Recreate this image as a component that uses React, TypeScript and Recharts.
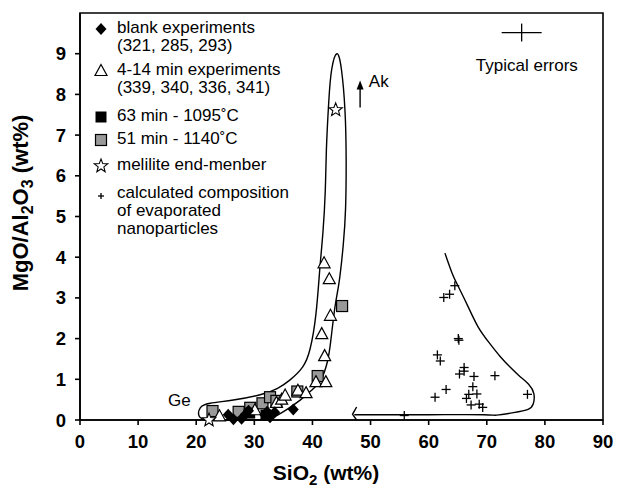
import React from 'react';
import { ScatterChart, Scatter, XAxis, YAxis, ReferenceArea, ReferenceDot, ErrorBar, Legend } from 'recharts';

const xTicks = [0, 10, 20, 30, 40, 50, 60, 70, 80, 90];
const yTicks = [0, 1, 2, 3, 4, 5, 6, 7, 8, 9];

// blank experiments (321, 285, 293)
const blankExperiments = [
  { x: 25.5, y: 0.13 }, { x: 26.4, y: 0.02 }, { x: 27.8, y: 0.03 }, { x: 28.5, y: 0.14 },
  { x: 29.0, y: 0.23 }, { x: 31.8, y: 0.13 }, { x: 32.2, y: 0.2 }, { x: 32.7, y: 0.07 },
  { x: 33.5, y: 0.19 }, { x: 36.7, y: 0.26 },
];

// 4-14 min experiments
const shortExperiments = [
  { x: 24.0, y: 0.09 }, { x: 30.1, y: 0.24 }, { x: 33.8, y: 0.42 }, { x: 34.7, y: 0.5 },
  { x: 35.3, y: 0.6 }, { x: 37.5, y: 0.72 }, { x: 38.9, y: 0.66 }, { x: 40.6, y: 0.93 },
  { x: 42.3, y: 0.93 }, { x: 42.1, y: 1.57 }, { x: 41.6, y: 2.11 }, { x: 43.1, y: 2.56 },
  { x: 42.9, y: 3.46 }, { x: 42.0, y: 3.85 },
];

const run63 = [{ x: 29.2, y: 0.17 }, { x: 32.0, y: 0.12 }];

const run51 = [
  { x: 22.8, y: 0.22 }, { x: 27.3, y: 0.2 }, { x: 29.3, y: 0.3 }, { x: 31.4, y: 0.41 },
  { x: 32.7, y: 0.56 }, { x: 33.8, y: 0.47 }, { x: 37.4, y: 0.7 }, { x: 40.9, y: 1.08 },
  { x: 45.1, y: 2.8 },
];

const melilite = [{ x: 22.2, y: 0.0 }, { x: 44.0, y: 7.62 }];

const nanoparticles = [
  { x: 64.5, y: 3.3 }, { x: 63.6, y: 3.09 }, { x: 62.6, y: 3.01 }, { x: 65.1, y: 2.0 },
  { x: 65.2, y: 1.96 }, { x: 61.5, y: 1.6 }, { x: 62.0, y: 1.45 }, { x: 66.1, y: 1.29 },
  { x: 66.1, y: 1.2 }, { x: 65.3, y: 1.13 }, { x: 67.8, y: 1.07 }, { x: 71.4, y: 1.09 },
  { x: 67.6, y: 0.82 }, { x: 63.0, y: 0.75 }, { x: 61.1, y: 0.56 }, { x: 66.9, y: 0.63 },
  { x: 68.3, y: 0.64 }, { x: 66.5, y: 0.53 }, { x: 67.3, y: 0.37 }, { x: 68.7, y: 0.39 },
  { x: 69.3, y: 0.31 }, { x: 77.0, y: 0.63 }, { x: 55.8, y: 0.11 },
];

// hand-drawn fields
const leftField = [
  { x: 21.5, y: 0.0 }, { x: 20.5, y: 0.1 }, { x: 20.7, y: 0.3 }, { x: 22.4, y: 0.41 },
  { x: 26.4, y: 0.49 }, { x: 31.0, y: 0.62 }, { x: 34.0, y: 0.78 }, { x: 36.1, y: 0.98 },
  { x: 38.3, y: 1.3 }, { x: 39.6, y: 1.75 }, { x: 40.6, y: 2.6 }, { x: 41.3, y: 3.77 },
  { x: 41.8, y: 4.6 }, { x: 42.2, y: 5.6 }, { x: 42.4, y: 6.64 }, { x: 42.8, y: 7.8 },
  { x: 43.3, y: 8.6 }, { x: 44.2, y: 9.0 }, { x: 45.0, y: 8.6 }, { x: 45.6, y: 7.6 },
  { x: 45.8, y: 6.4 }, { x: 45.7, y: 5.2 }, { x: 45.3, y: 4.3 }, { x: 44.6, y: 3.4 },
  { x: 43.9, y: 2.8 }, { x: 43.2, y: 2.0 }, { x: 42.6, y: 1.45 }, { x: 41.5, y: 1.0 },
  { x: 40.0, y: 0.75 }, { x: 38.0, y: 0.5 }, { x: 35.5, y: 0.25 }, { x: 33.0, y: 0.05 },
  { x: 30.0, y: 0.0 }, { x: 21.5, y: 0.0 },
];

const rightField = [
  { x: 62.8, y: 4.1 }, { x: 64.0, y: 3.62 }, { x: 65.1, y: 3.28 }, { x: 66.8, y: 2.78 },
  { x: 68.5, y: 2.29 }, { x: 70.4, y: 1.9 }, { x: 72.3, y: 1.56 }, { x: 74.0, y: 1.3 },
  { x: 75.7, y: 1.07 }, { x: 77.2, y: 0.88 }, { x: 78.1, y: 0.65 }, { x: 78.0, y: 0.4 },
  { x: 77.1, y: 0.26 }, { x: 74.6, y: 0.18 }, { x: 71.7, y: 0.12 }, { x: 69.5, y: 0.13 },
  { x: 60.0, y: 0.13 }, { x: 47.2, y: 0.13 },
];

const fieldArrow = [{ x: 47.6, y: 0.32 }, { x: 46.9, y: 0.14 }, { x: 47.6, y: 0.0 }];

const typicalError = [{ x: 76.0, y: 9.52, ex: 3.44, ey: 0.22 }];

const legendItems = [
  { marker: 'diamond', lines: ['blank experiments', '(321, 285, 293)'] },
  { marker: 'triangle', lines: ['4-14 min experiments', '(339, 340, 336, 341)'] },
  { marker: 'black', lines: ['63 min - 1095˚C'] },
  { marker: 'gray', lines: ['51 min - 1140˚C'] },
  { marker: 'star', lines: ['melilite end-menber'] },
  { marker: 'plus', lines: ['calculated composition', 'of evaporated', 'nanoparticles'] },
];

const FONT = '"Liberation Sans", Arial, Helvetica, sans-serif';

function starPoints(cx: number, cy: number, ro: number, ri: number) {
  const pts: string[] = [];
  for (let i = 0; i < 10; i++) {
    const r = i % 2 === 0 ? ro : ri;
    const a = -Math.PI / 2 + (i * Math.PI) / 5;
    pts.push(`${cx + r * Math.cos(a)},${cy + r * Math.sin(a)}`);
  }
  return pts.join(' ');
}

function Marker({ kind, cx, cy, small }: { kind: string; cx: number; cy: number; small?: boolean }) {
  switch (kind) {
    case 'diamond':
      return <polygon points={`${cx},${cy - 6} ${cx + 5.5},${cy} ${cx},${cy + 6} ${cx - 5.5},${cy}`} fill="#000" />;
    case 'triangle':
      return (
        <polygon
          points={`${cx},${cy - 6.5} ${cx + 6},${cy + 4.5} ${cx - 6},${cy + 4.5}`}
          fill="#fff" stroke="#000" strokeWidth={1.2}
        />
      );
    case 'black':
      return <rect x={cx - 5.5} y={cy - 5.5} width={11} height={11} fill="#000" />;
    case 'gray':
      return <rect x={cx - 5.5} y={cy - 5.5} width={11} height={11} fill="#999" stroke="#000" strokeWidth={1.2} />;
    case 'star':
      return <polygon points={starPoints(cx, cy, 7, 3)} fill="#fff" stroke="#000" strokeWidth={1.1} />;
    case 'plus': {
      const h = small ? 3 : 4.5;
      return (
        <g stroke="#000" strokeWidth={1.3}>
          <line x1={cx - h} y1={cy} x2={cx + h} y2={cy} />
          <line x1={cx} y1={cy - h} x2={cx} y2={cy + h} />
        </g>
      );
    }
    default:
      return <g />;
  }
}

const shapeOf = (kind: string) => (p: any) => <Marker kind={kind} cx={p.cx} cy={p.cy} />;
const noShape = () => <g />;

const legendGaps = [0, 6, 10, 5, 8, 10];

function ChartLegend() {
  return (
    <div style={{ fontFamily: FONT, fontSize: 17, lineHeight: '18px', color: '#000' }}>
      {legendItems.map((item, i) => (
        <div key={i} style={{ display: 'flex', marginTop: legendGaps[i] }}>
          <svg width={16} height={18} style={{ flex: 'none', marginRight: 8 }}>
            <Marker kind={item.marker} cx={8} cy={item.marker === 'plus' ? 12 : 10} small />
          </svg>
          <div>
            {item.lines.map((l, j) => (
              <div key={j} style={{ whiteSpace: 'nowrap' }}>{l}</div>
            ))}
          </div>
        </div>
      ))}
    </div>
  );
}

const tickStyle = { fontFamily: FONT, fontSize: 18.5, fontWeight: 700, fill: '#000' };

export default function App() {
  return (
    <div style={{ position: 'absolute', left: 0, top: 0, background: '#fff' }}>
      <ScatterChart width={619} height={490} margin={{ top: 13, right: 16, bottom: 0, left: 0 }}>
        <XAxis
          type="number" dataKey="x" domain={[0, 90]} ticks={xTicks} interval={0}
          height={70} tickSize={5} tickMargin={10} tick={tickStyle}
          axisLine={{ stroke: '#000', strokeWidth: 1.6 }} tickLine={{ stroke: '#000', strokeWidth: 1.6 }}
          label={{
            content: ({ viewBox }: any) => (
              <text x={viewBox.x + 246} y={viewBox.y + 60} textAnchor="middle"
                style={{ fontFamily: FONT, fontSize: 21, fontWeight: 700 }} fill="#000">
                SiO<tspan dy={5} fontSize={15}>2</tspan><tspan dy={-5}> (wt%)</tspan>
              </text>
            ),
          }}
        />
        <YAxis
          type="number" dataKey="y" domain={[0, 10]} ticks={yTicks} interval={0}
          width={80} tickSize={5} tickMargin={9} tick={tickStyle}
          axisLine={{ stroke: '#000', strokeWidth: 1.6 }} tickLine={{ stroke: '#000', strokeWidth: 1.6 }}
          label={{
            content: () => (
              <text x={28} y={203} textAnchor="middle" transform="rotate(-90, 28, 203)"
                style={{ fontFamily: FONT, fontSize: 22, fontWeight: 700 }} fill="#000">
                MgO/Al<tspan dy={5} fontSize={16}>2</tspan><tspan dy={-5}>O</tspan>
                <tspan dy={5} fontSize={16}>3</tspan><tspan dy={-5}> (wt%)</tspan>
              </text>
            ),
          }}
        />
        <ReferenceArea x1={0} x2={90} y1={0} y2={10} fill="none" stroke="#000" strokeWidth={1.6} />

        <Scatter data={leftField} shape={noShape} line={{ stroke: '#000', strokeWidth: 1.4 }}
          lineJointType="natural" legendType="none" isAnimationActive={false} />
        <Scatter data={rightField} shape={noShape} line={{ stroke: '#000', strokeWidth: 1.4 }}
          lineJointType="natural" legendType="none" isAnimationActive={false} />
        <Scatter data={fieldArrow} shape={noShape} line={{ stroke: '#000', strokeWidth: 1.4 }}
          legendType="none" isAnimationActive={false} />

        <Scatter name="51 min - 1140˚C" data={run51} shape={shapeOf('gray')} isAnimationActive={false} />
        <Scatter name="63 min - 1095˚C" data={run63} shape={shapeOf('black')} isAnimationActive={false} />
        <Scatter name="4-14 min experiments" data={shortExperiments} shape={shapeOf('triangle')} isAnimationActive={false} />
        <Scatter name="blank experiments" data={blankExperiments} shape={shapeOf('diamond')} isAnimationActive={false} />
        <Scatter name="melilite end-menber" data={melilite} shape={shapeOf('star')} isAnimationActive={false} />
        <Scatter name="calculated composition" data={nanoparticles} shape={shapeOf('plus')} isAnimationActive={false} />

        <Scatter data={typicalError} shape={noShape} legendType="none" isAnimationActive={false}>
          <ErrorBar dataKey="ex" direction="x" width={0} stroke="#000" strokeWidth={1.3} />
          <ErrorBar dataKey="ey" direction="y" width={0} stroke="#000" strokeWidth={1.3} />
        </Scatter>

        <ReferenceDot x={76.9} y={8.73} shape={(p: any) => (
          <text x={p.cx} y={p.cy + 6} textAnchor="middle" style={{ fontFamily: FONT, fontSize: 17 }} fill="#000">Typical errors</text>
        )} />
        <ReferenceDot x={48.2} y={8.0} shape={(p: any) => (
          <g>
            <line x1={p.cx} y1={p.cy + 13} x2={p.cx} y2={p.cy - 6} stroke="#000" strokeWidth={1.4} />
            <polygon points={`${p.cx},${p.cy - 14} ${p.cx - 3.5},${p.cy - 5} ${p.cx + 3.5},${p.cy - 5}`} fill="#000" />
          </g>
        )} />
        <ReferenceDot x={49.7} y={8.34} shape={(p: any) => (
          <text x={p.cx} y={p.cy + 6} style={{ fontFamily: FONT, fontSize: 17 }} fill="#000">Ak</text>
        )} />
        <ReferenceDot x={17.1} y={0.49} shape={(p: any) => (
          <text x={p.cx} y={p.cy + 6} textAnchor="middle" style={{ fontFamily: FONT, fontSize: 17 }} fill="#000">Ge</text>
        )} />

        <Legend content={() => <ChartLegend />} layout="vertical" align="center" verticalAlign="middle"
          wrapperStyle={{ left: 93, top: 19, width: 260 }} />
      </ScatterChart>
    </div>
  );
}
